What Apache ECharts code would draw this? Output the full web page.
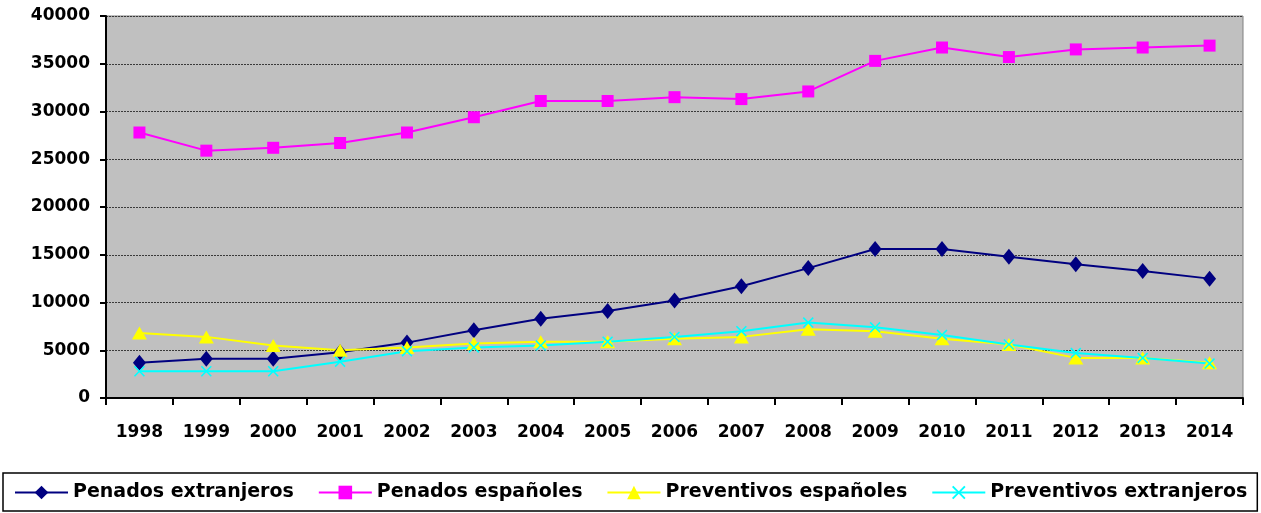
<!DOCTYPE html>
<html>
<head>
<meta charset="utf-8">
<script src="https://cdn.jsdelivr.net/npm/echarts@6/dist/echarts.min.js"></script>
<style>
  html, body { margin: 0; padding: 0; background: #fff; }
  #chart { width: 1261px; height: 513px; }
</style>
</head>
<body>
<div id="chart"></div>
<script>
const years = ['1998', '1999', '2000', '2001', '2002', '2003', '2004', '2005', '2006',
  '2007', '2008', '2009', '2010', '2011', '2012', '2013', '2014']

const penadosExtranjeros = [3700, 4100, 4100, 4800, 5800, 7100, 8300, 9100, 10200,
  11700, 13600, 15600, 15600, 14800, 14000, 13300, 12500]
const penadosEspanoles = [27800, 25900, 26200, 26700, 27800, 29400, 31100, 31100, 31500,
  31300, 32100, 35300, 36700, 35700, 36500, 36700, 36900]
const preventivosEspanoles = [6800, 6400, 5500, 5000, 5300, 5700, 5900, 5900, 6200,
  6400, 7200, 7000, 6200, 5600, 4200, 4200, 3700]
const preventivosExtranjeros = [2800, 2800, 2800, 3800, 4900, 5300, 5500, 5900, 6400,
  7000, 7900, 7400, 6600, 5600, 4700, 4200, 3600]

const font = '"DejaVu Sans", sans-serif'
// cruz en forma de X, rellena
const crossPath = 'path://M0,1L1,0L5,4L9,0L10,1L6,5L10,9L9,10L5,6L1,10L0,9L4,5Z'

const chart = echarts.init(document.getElementById('chart'))

const lineSeries = (name, data, color, symbol, size) => ({
  name,
  type: 'line',
  data,
  symbol,
  symbolSize: size,
  showAllSymbol: true,
  lineStyle: { color, width: 2 },
  itemStyle: { color },
  emphasis: { disabled: true },
  animation: false,
})

chart.setOption({
  backgroundColor: '#ffffff',
  animation: false,
  grid: {
    left: 106,
    right: 18,
    top: 16,
    bottom: 115,
    show: true,
    backgroundColor: '#c0c0c0',
    borderColor: '#808080',
    borderWidth: 1,
  },
  xAxis: {
    type: 'category',
    data: years,
    boundaryGap: true,
    axisLine: { lineStyle: { color: '#000', width: 2 } },
    axisTick: { show: true, length: 7, lineStyle: { color: '#000', width: 2 } },
    axisLabel: {
      color: '#000',
      fontFamily: font,
      fontWeight: 'bold',
      fontSize: 17,
      margin: 26,
    },
  },
  yAxis: {
    type: 'value',
    min: 0,
    max: 40000,
    interval: 5000,
    axisLine: { show: true, lineStyle: { color: '#000', width: 2 } },
    axisTick: { show: true, length: 6, lineStyle: { color: '#000', width: 2 } },
    axisLabel: {
      color: '#000',
      fontFamily: font,
      fontWeight: 'bold',
      fontSize: 17,
      margin: 16,
      formatter: (v) => String(v),
    },
    splitLine: { lineStyle: { color: '#3a3a3a', width: 1, type: [2, 1] } },
  },
  legend: {
    left: 3,
    top: 473,
    padding: [10, 10, 9, 11],
    borderColor: '#000',
    borderWidth: 1.5,
    itemWidth: 53,
    itemHeight: 17,
    itemGap: 24,
    textStyle: {
      color: '#000',
      fontFamily: font,
      fontWeight: 'bold',
      fontSize: 19,
    },
    data: ['Penados extranjeros', 'Penados españoles', 'Preventivos españoles', 'Preventivos extranjeros'],
  },
  series: [
    lineSeries('Penados extranjeros', penadosExtranjeros, '#000080', 'diamond', [13, 16]),
    lineSeries('Penados españoles', penadosEspanoles, '#ff00ff', 'rect', 12),
    lineSeries('Preventivos españoles', preventivosEspanoles, '#ffff00', 'triangle', [15, 13]),
    lineSeries('Preventivos extranjeros', preventivosExtranjeros, '#00ffff', crossPath, 11),
  ],
})
</script>
</body>
</html>
